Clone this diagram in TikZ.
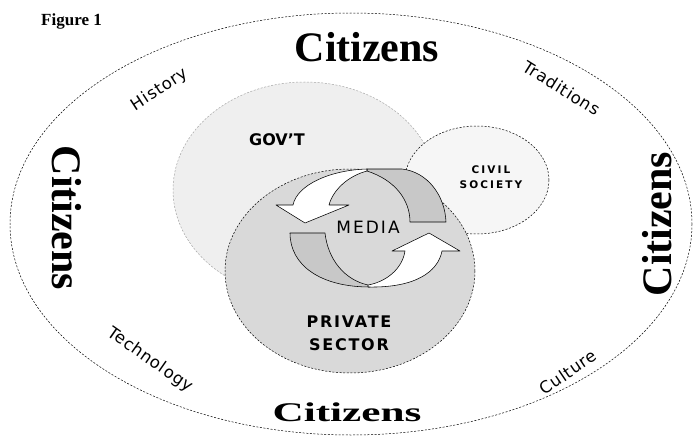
\documentclass[tikz,border=0pt]{standalone}
\usepackage{fontspec}
\setmainfont{Liberation Serif}
\setsansfont{DejaVu Sans}
\definecolor{govfill}{RGB}{239,239,239}
\definecolor{govline}{RGB}{165,165,165}
\definecolor{civfill}{RGB}{246,246,246}
\definecolor{privfill}{RGB}{217,217,217}
\definecolor{bandfill}{RGB}{200,200,200}
\begin{document}
\begin{tikzpicture}[x=1pt,y=-1pt,
  lbl/.style={font=\sffamily\fontsize{16.5}{18}\selectfont\addfontfeature{LetterSpace=5}, inner sep=0pt},
  cit/.style={font=\bfseries\fontsize{42}{44}\selectfont, inner sep=0pt},
  sect/.style={font=\sffamily\bfseries\fontsize{16}{23}\selectfont\addfontfeature{LetterSpace=11}, inner sep=0pt, align=center},
  ring/.style={dash pattern=on 2pt off 1.6pt, line width=0.5pt},
  band/.style={draw=black, line width=0.55pt, fill=bandfill, line join=round},
  front/.style={draw=black, line width=0.55pt, fill=white, line join=round}]
\useasboundingbox (0,0) rectangle (694,436);
% outer ring
\draw[ring] (351,224) ellipse [x radius=341, y radius=211];
% sectors
\draw[ring, draw=govline, fill=govfill] (305,190) ellipse [x radius=132, y radius=108];
\draw[ring, fill=civfill] (477,180) ellipse [x radius=72, y radius=54];
\draw[ring, fill=privfill] (350,271) ellipse [x radius=125, y radius=102];
% media cycle arrows
\draw[band] (367,169) -- (402,169) .. controls (428,172) and (445,196) .. (446,222) -- (410,222) .. controls (410,200) and (395,180) .. (367,171) -- cycle;
\draw[front] (367,169) .. controls (330,170) and (297,185) .. (293,205) -- (276,205) -- (305,223) -- (349,205) -- (329,205) .. controls (333,190) and (348,176) .. (367,171) -- cycle;
\draw[band] (290,233) -- (325,233) .. controls (328,260) and (345,280) .. (368,285) -- (370,287) .. controls (320,287) and (290,265) .. (290,233) -- cycle;
\draw[front] (368,287) .. controls (415,288) and (438,272) .. (442,251) -- (460,251) -- (429,233) -- (392,251) -- (405,251) .. controls (402,270) and (385,282) .. (368,285) -- cycle;
% texts
\node[font=\bfseries\fontsize{17}{19}\selectfont, anchor=west, inner sep=0pt] (fig) at (41,21) {Figure 1};
\node[cit] (citTop) at (367,47) {Citizens};
\node[cit, rotate=-90] (citLeft) at (67,218) {Citizens};
\node[cit, rotate=90] (citRight) at (657,224) {Citizens};
\node[cit, font=\bfseries\fontsize{27}{30}\selectfont, xscale=1.6] (citBottom) at (347,412) {Citizens};
\node[lbl, rotate=33] (history) at (160,90) {History};
\node[lbl, rotate=-32] (traditions) at (562,88) {Traditions};
\node[lbl, rotate=-35] (technology) at (150,360) {Technology};
\node[lbl, rotate=34] (culture) at (568,372) {Culture};
\node[font=\sffamily\bfseries\fontsize{16}{18}\selectfont, inner sep=0pt] (gov) at (277,140) {GOV'T};
\node[font=\sffamily\bfseries\fontsize{10.5}{15}\selectfont\addfontfeature{LetterSpace=20}, inner sep=0pt, align=center] (civil) at (491,177) {CIVIL\\SOCIETY};
\node[font=\sffamily\fontsize{17}{18}\selectfont\addfontfeature{LetterSpace=12}, inner sep=0pt] (media) at (368,227) {MEDI\kern2pt A};
\node[sect] (private) at (349,333) {PRIVATE\\SECTOR};
\end{tikzpicture}
\end{document}
